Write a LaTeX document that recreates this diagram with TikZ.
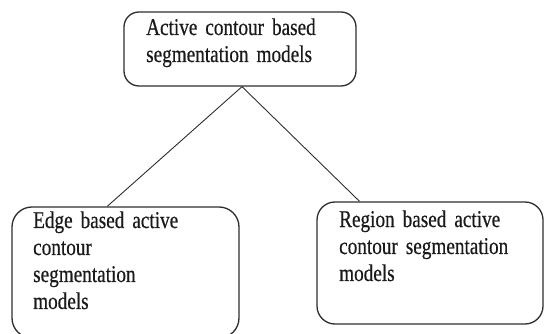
\documentclass[tikz,border=0pt]{standalone}
\usepackage{fontspec}
\setmainfont{Liberation Serif}[FakeStretch=0.8,WordSpace=0.7,FakeBold=0.5]
\usetikzlibrary{calc}
\definecolor{ink}{HTML}{1A1A1A}
\definecolor{edge}{HTML}{2E2E2E}
\begin{document}
\begin{tikzpicture}[x=1pt,y=-1pt,
  boxnode/.style={draw=edge,line width=1.3pt,rounded corners=#1,inner sep=0pt,minimum width=0pt,minimum height=0pt},
  boxnode/.default=16pt,
  label/.style={anchor=base west,inner sep=0pt,text=ink,text width=230pt,align=left,font=\fontsize{24}{27}\selectfont},
  link/.style={draw=edge,line width=0.9pt}]
\useasboundingbox (0,0) rectangle (544,334);
\clip (0,0) rectangle (544,334);
\node[boxnode=15pt,minimum width=232pt,minimum height=74pt] (top) at (240,49) {};
\node[boxnode=20pt,minimum width=227pt,minimum height=131pt] (left) at (125.5,272.5) {};
\node[boxnode=18pt,minimum width=226pt,minimum height=122pt] (right) at (430,263) {};
\node[label] (toptext) at (146,35) {Active contour based\\segmentation models};
\node[label] (lefttext) at (33,228) {Edge based active\\contour\\segmentation\\models};
\node[label] (righttext) at (339,227) {Region based active\\contour segmentation\\models};
\coordinate (apex) at ($(top.south)+(2,0)$);
\coordinate (lend) at ($(left.north west)!0.42!(left.north east)$);
\coordinate (rend) at ($(right.north west)!0.19!(right.north east)$);
\draw[link] (apex) -- (lend);
\draw[link] (apex) -- (rend);
\end{tikzpicture}
\end{document}
